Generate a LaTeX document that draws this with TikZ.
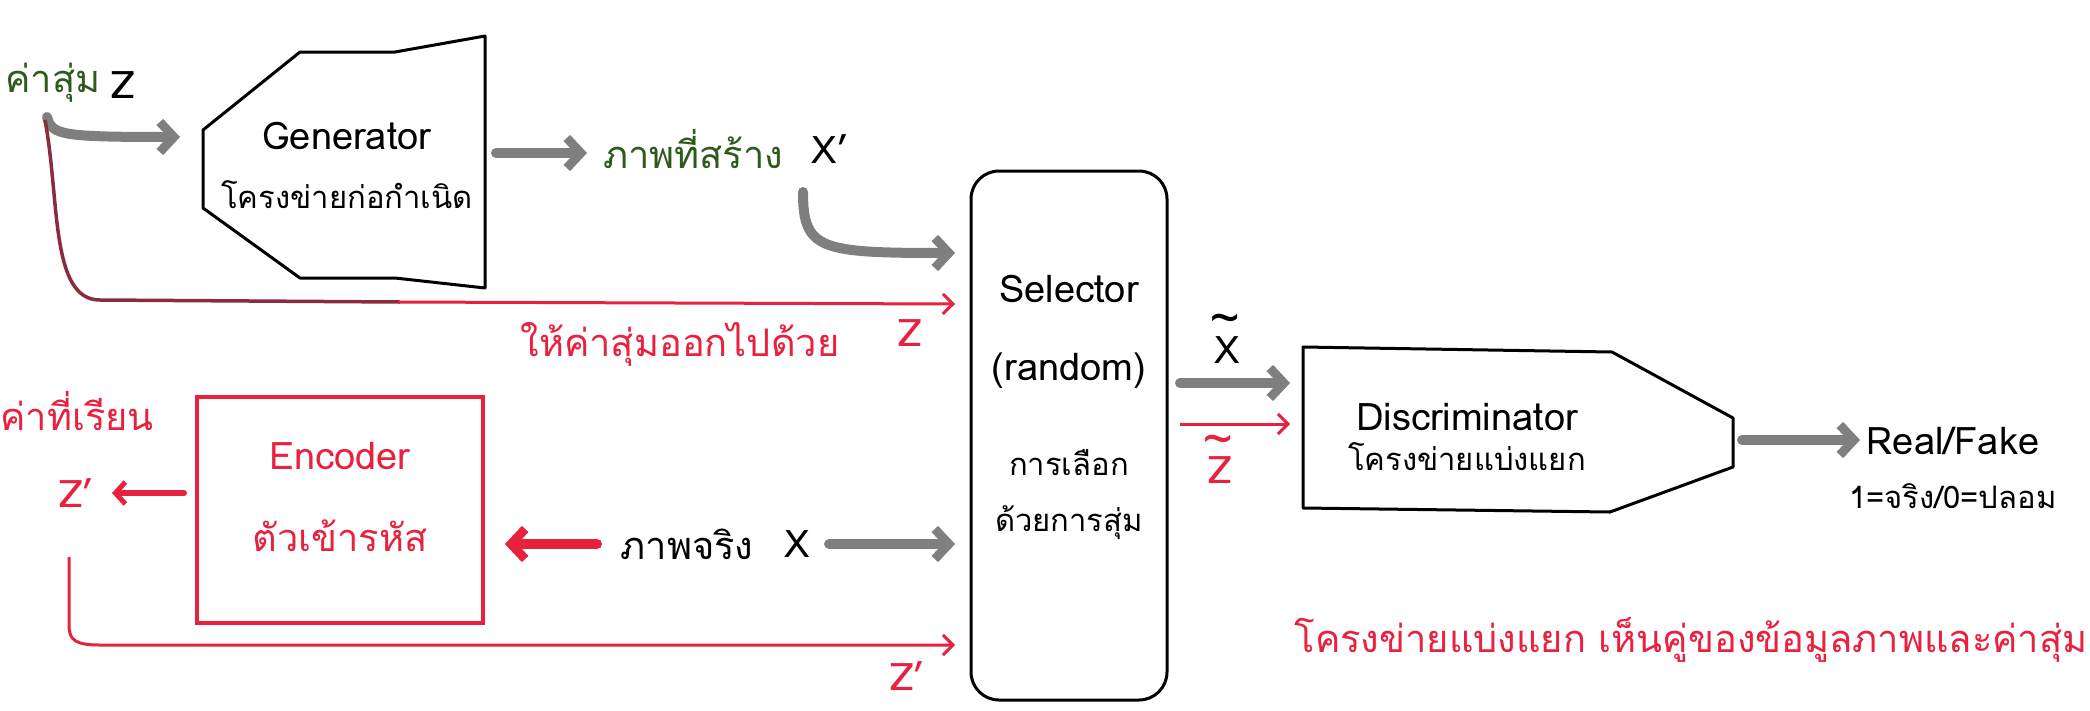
\documentclass[tikz,border=0pt]{standalone}
\usepackage{fontspec}
\setmainfont[Script=Thai]{Loma}
\usetikzlibrary{arrows.meta}
\definecolor{gr}{HTML}{7F7F7F}
\definecolor{rd}{HTML}{E8213F}
\definecolor{dg}{HTML}{2E5A1E}
\definecolor{mr}{HTML}{8A2C3C}
\begin{document}
\begin{tikzpicture}[x=1pt,y=-1pt,
  t/.style={inner sep=0pt,font=\fontsize{38}{40}\selectfont},
  ts/.style={inner sep=0pt,font=\fontsize{31}{33}\selectfont},
  tl/.style={inner sep=0pt,font=\fontsize{50}{52}\selectfont},
  garr/.style={gr,line width=10pt,line cap=round,-{Straight Barb[length=14pt,width=30pt,line width=9pt]}},
  rarr/.style={rd,line width=3pt,-{Straight Barb[length=10pt,width=20pt]}},
  rmid/.style={rd,line width=6pt,line cap=round,-{Straight Barb[length=10pt,width=22pt,line width=5pt]}},
  rthick/.style={rd,line width=10pt,line cap=round,-{Straight Barb[length=14pt,width=30pt,line width=9pt]}},
  shp/.style={draw,line width=3pt,line join=round}]
\useasboundingbox (0,0) rectangle (2090,710);
% generator
\draw[shp] (203,130) -- (300,52) -- (395,52) -- (485,36) -- (485,288) -- (395,278) -- (300,278) -- (203,208) -- cycle;
\node[t] (gen) at (347,136) {Generator};
\node[ts] (gent) at (347,195) {โครงข่ายก่อกำเนิด};
% discriminator
\draw[shp] (1303,347) -- (1612,352) -- (1733,418) -- (1733,467) -- (1610,512) -- (1303,508) -- cycle;
\node[t] (dis) at (1467,417) {Discriminator};
\node[ts] (dist) at (1467,457) {โครงข่ายแบ่งแยก};
% selector
\node[draw,line width=3pt,rounded corners=28pt,minimum width=196pt,minimum height=529pt] (sel) at (1069,435.5) {};
\node[t] at (1069,289) {Selector};
\node[t] at (1069,371) {(random)};
\node[ts] at (1069,463) {การเลือก};
\node[ts] at (1069,523) {ด้วยการสุ่ม};
% encoder
\node[draw=rd,line width=4pt,minimum width=286pt,minimum height=226pt] (enc) at (340,510) {};
\node[t,rd] at (340,456) {Encoder};
\node[t,rd] at (340,536) {ตัวเข้ารหัส};
% labels
\node[t,dg] (rnd) at (53,83) {ค่าสุ่ม};
\node[t] (z) at (123,85) {Z};
\node[t,dg] (gimg) at (693,149) {ภาพที่สร้าง};
\node[t] (xp) at (830,149) {X'};
\node[t,rd] at (910,333) {Z};
\node[t,rd] at (680,344) {ให้ค่าสุ่มออกไปด้วย};
\node[t,rd] at (77,411) {ค่าที่เรียน};
\node[t,rd] (zp) at (76,493) {Z'};
\node[t] (rimg) at (687,544) {ภาพจริง};
\node[t] (x) at (797,544) {X};
\node[t,rd] at (907,676) {Z'};
\node[t] at (1227,350) {X};
\node[tl] at (1225,325) {\char"7E};
\node[t,rd] at (1220,470) {Z};
\node[tl,rd] at (1218,446) {\char"7E};
\node[t] (rf) at (1953,441) {Real/Fake};
\node[ts] at (1953,496) {1=จริง/0=ปลอม};
\node[t,rd] at (1691,640) {โครงข่ายแบ่งแยก เห็นคู่ของข้อมูลภาพและค่าสุ่ม};
% coordinates
\coordinate (sA) at (955,253); \coordinate (sB) at (955,304);
\coordinate (sC) at (955,544); \coordinate (sD) at (955,645);
\coordinate (dA) at (1290,383); \coordinate (dB) at (1290,424);
\coordinate (sR1) at (1180,383); \coordinate (sR2) at (1180,424);
% arrows
\draw[garr] (47,117) .. controls (52,135) and (60,137) .. (180,137);
\draw[garr] (496,153) -- (587,153);
\draw[garr] (803,192) .. controls (803,250) and (820,253) .. (sA);
\draw[mr,line width=3.5pt] (45,120) .. controls (60,200) and (50,300) .. (100,300) -- (400,302);
\draw[rarr] (398,302) -- (sB);
\draw[rmid] (184,493) -- (112,493);
\draw[rthick] (597,544) -- (505,544);
\draw[garr] (829,544) -- (sC);
\draw[rarr] (69,557) -- (69,625) .. controls (69,640) and (75,645) .. (100,645) -- (sD);
\draw[garr] (sR1) -- (dA);
\draw[rarr] (sR2) -- (dB);
\draw[garr] (1742,440) -- (1860,440);
\end{tikzpicture}
\end{document}
